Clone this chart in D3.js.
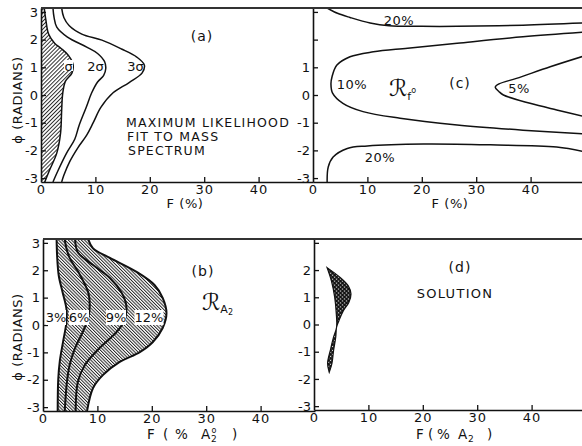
<!DOCTYPE html>
<html>
<head>
<meta charset="utf-8">
<script src="https://cdn.jsdelivr.net/npm/d3@7"></script>
<style>
  body { margin: 0; background: #fff; }
  svg { display: block; font-family: "DejaVu Sans", sans-serif; }
</style>
</head>
<body>
<svg id="fig" width="582" height="446"></svg>
<script>
// ---- data: [F (%), phi (rad)] ----
const fTicks = [0, 10, 20, 30, 40];
const phiTicks = [-3, -2, -1, 0, 1, 2, 3];

// (a) maximum likelihood contours
const sigma1 = [[0.6,3.14],[0.9,2.7],[1.4,2.2],[2.5,1.87],[3.7,1.68],[5.0,1.44],[5.9,1.1],[5.7,0.8],[4.5,0.5],[4.0,0.07],[3.8,-0.54],[3.6,-1.37],[2.9,-2.1],[1.6,-2.7],[0.7,-3.14]];
const sigma2 = [[2.2,3.14],[2.4,2.8],[2.9,2.45],[4.8,2.1],[8.4,1.73],[10.4,1.5],[11.7,1.2],[11.9,0.95],[11.5,0.7],[10.4,0.47],[9.3,0.07],[8.3,-0.45],[7.0,-1.1],[6.2,-1.6],[4.7,-2.1],[3.2,-2.7],[2.2,-3.14]];
const sigma3 = [[3.8,3.14],[4.2,2.8],[5.2,2.5],[7.5,2.2],[11.2,1.98],[14.8,1.66],[17.6,1.37],[19.0,1.08],[18.6,0.8],[16.2,0.45],[13.2,0.07],[11.0,-0.45],[9.6,-1.0],[8.4,-1.45],[6.8,-1.9],[5.3,-2.4],[4.2,-2.9],[3.8,-3.14]];

// (c) R_f0 contours
const c20top = [[2.6,3.14],[4.5,2.95],[6.8,2.8],[10.5,2.6],[14,2.5],[20,2.48],[26.5,2.48],[38.6,2.52],[50,2.6]];
const c10 = [[50,2.27],[38.6,2.1],[26.5,1.87],[17.4,1.69],[11.1,1.56],[6.8,1.38],[4.4,1.08],[3.5,0.66],[3.3,0.4],[3.6,0.07],[5.5,-0.3],[9.2,-0.6],[16,-0.84],[26.5,-1.08],[38.6,-1.27],[50,-1.41]];
const c5 = [[50,1.42],[43.6,1.02],[37.4,0.6],[34.2,0.4],[33.5,0.28],[34.2,0.12],[35,0.0],[39.9,-0.3],[44.8,-0.54],[50,-0.78]];
const c20bot = [[2.6,-3.14],[2.8,-2.6],[3.7,-2.24],[6.3,-1.93],[10,-1.84],[20.3,-1.77],[32.6,-1.8],[44.8,-1.88],[50,-2.05]];

// (b) R_A2 contours
const b3 = [[2.5,3.14],[2.6,2.5],[2.9,1.8],[3.6,1.2],[4.3,0.6],[4.3,0.1],[3.7,-0.6],[3.1,-1.3],[2.8,-2.0],[2.7,-3.14]];
const b6 = [[4.0,3.14],[4.3,2.8],[4.9,2.45],[6.8,1.83],[8.3,1.2],[8.6,0.73],[8.3,0.26],[7.3,-0.26],[5.9,-0.84],[4.9,-1.46],[4.4,-2.08],[4.0,-3.14]];
const b9 = [[5.9,3.14],[6.4,2.66],[9.2,2.19],[12.3,1.72],[14.4,1.2],[15.3,0.73],[15,0.18],[13.5,-0.26],[10.4,-0.84],[7.7,-1.46],[6.4,-2.08],[6.0,-3.14]];
const b12 = [[8.3,3.14],[9.2,2.8],[12.3,2.45],[17.2,1.94],[20.5,1.46],[22.0,0.99],[22.7,0.44],[22.0,-0.11],[20.2,-0.62],[17.8,-0.99],[14.1,-1.35],[11.0,-1.83],[9.2,-2.3],[8.1,-3.14]];

// (d) solution region outline
const solRight = [[2.4,2.09],[4.8,1.73],[6.3,1.42],[6.8,1.12],[6.4,0.81],[5.4,0.51],[4.6,0.15],[4.15,-0.1],[4.0,-0.46],[3.6,-0.95],[3.3,-1.43],[2.8,-1.76]];
const solLeft = [[2.8,-1.76],[2.5,-1.43],[3.0,-0.95],[3.6,-0.46],[4.15,-0.1],[4.1,0.39],[3.8,1.0],[3.2,1.6],[2.4,2.09]];

// ---- drawing ----
const svg = d3.select('#fig');
const W = 272;
const ink = '#111';

const defs = svg.append('defs');
defs.append('pattern').attr('id', 'hatchA')
  .attr('patternUnits', 'userSpaceOnUse').attr('width', 2.8).attr('height', 10)
  .attr('patternTransform', 'rotate(45)')
  .append('line').attr('x1', 0.5).attr('x2', 0.5).attr('y1', 0).attr('y2', 10)
  .attr('stroke', ink).attr('stroke-width', 0.9);
defs.append('pattern').attr('id', 'hatchB')
  .attr('patternUnits', 'userSpaceOnUse').attr('width', 2.3).attr('height', 10)
  .attr('patternTransform', 'rotate(-45)')
  .append('line').attr('x1', 0.5).attr('x2', 0.5).attr('y1', 0).attr('y2', 10)
  .attr('stroke', ink).attr('stroke-width', 0.9);
const dots = defs.append('pattern').attr('id', 'dots')
  .attr('patternUnits', 'userSpaceOnUse').attr('width', 2.8).attr('height', 2.8)
  .attr('patternTransform', 'rotate(45)');
dots.append('rect').attr('width', 2.8).attr('height', 2.8).attr('fill', ink);
dots.append('circle').attr('cx', 1.4).attr('cy', 1.4).attr('r', 0.7).attr('fill', '#fff');

function panel(id, left, top, bottom, labels) {
  const x = d3.scaleLinear().domain([0, 50]).range([left, left + W]);
  const y = d3.scaleLinear().domain([-Math.PI, Math.PI]).range([bottom, top]);
  defs.append('clipPath').attr('id', 'clip-' + id)
    .append('rect').attr('x', left).attr('y', top).attr('width', W).attr('height', bottom - top);
  const g = svg.append('g');
  const plot = g.append('g').attr('clip-path', `url(#clip-${id})`);

  const xAxis = g.append('g').attr('transform', `translate(0,${bottom})`)
    .call(d3.axisBottom(x).tickValues(fTicks).tickSizeInner(-5).tickSizeOuter(0)
      .tickPadding(3).tickFormat(d => String(d)));
  const yAxis = g.append('g').attr('transform', `translate(${left},0)`)
    .call(d3.axisLeft(y).tickValues(phiTicks).tickSizeInner(-5).tickSizeOuter(0)
      .tickPadding(3).tickFormat(d => labels.includes(d) ? String(d) : ''));
  [xAxis, yAxis].forEach(a => {
    a.attr('font-family', null).attr('font-size', 13);
    a.select('.domain').attr('stroke', ink).attr('stroke-width', 1.6);
    a.selectAll('.tick line').attr('stroke', ink).attr('stroke-width', 1.3);
    a.selectAll('.tick text').attr('fill', ink);
  });
  xAxis.selectAll('.tick text').attr('letter-spacing', 1);
  xAxis.selectAll('.tick').filter(d => d === 0).select('line').remove();
  g.append('line').attr('x1', left).attr('x2', left + W).attr('y1', top).attr('y2', top)
    .attr('stroke', '#333').attr('stroke-width', 1.8);

  const line = d3.line().x(d => x(d[0])).y(d => y(d[1])).curve(d3.curveCatmullRom.alpha(0.5));
  return { x, y, g, plot, line };
}

function txt(g, x, y, s, size, anchor, spacing) {
  return g.append('text').attr('x', x).attr('y', y).attr('font-size', size || 13)
    .attr('text-anchor', anchor || 'middle').attr('letter-spacing', spacing || 0)
    .attr('fill', ink).text(s);
}
function yLabel(cx, cy) {
  svg.append('text').attr('transform', `translate(${cx},${cy}) rotate(-90)`)
    .attr('text-anchor', 'middle').attr('dy', '0.35em').attr('font-size', 13)
    .attr('letter-spacing', 0.6).attr('fill', ink).text('ϕ (RADIANS)');
}
// "F ( % A2 )" axis title, pieces placed one by one like the lettering
function a2Label(g, pos, withZero) {
  const t = g.append('text').attr('y', 439).attr('font-size', 13.5).attr('fill', ink);
  t.append('tspan').attr('x', pos.F).text('F');
  t.append('tspan').attr('x', pos.open).text('(');
  t.append('tspan').attr('x', pos.pct).text('%');
  t.append('tspan').attr('x', pos.A).text('A');
  t.append('tspan').attr('x', pos.A + 10).attr('y', 442).attr('font-size', 9).text('2');
  if (withZero) {
    t.append('tspan').attr('x', pos.A + 10.5).attr('y', 433).attr('font-size', 8).text('o');
  }
  t.append('tspan').attr('x', pos.close).attr('y', 439).text(')');
}

// ---- panel (a) ----
const A = panel('a', 41, 8, 182, phiTicks);
A.plot.append('path')
  .attr('d', A.line(sigma1) + `L${A.x(0)},${A.y(-Math.PI)}L${A.x(0)},${A.y(Math.PI)}Z`)
  .attr('fill', 'url(#hatchA)').attr('stroke', 'none');
[sigma1, sigma2, sigma3].forEach(c => {
  A.plot.append('path').attr('d', A.line(c)).attr('fill', 'none')
    .attr('stroke', ink).attr('stroke-width', 1.5);
});
A.g.append('rect').attr('x', 64).attr('y', 60).attr('width', 9).attr('height', 11).attr('fill', '#fff');
txt(A.g, 68.5, 71, 'σ', 13);
txt(A.g, 95.5, 71, '2σ', 13);
txt(A.g, 135.5, 71, '3σ', 13);
txt(A.g, 202, 41, '(a)', 14, 'middle', 1);
txt(A.g, 126, 127, 'MAXIMUM LIKELIHOOD', 12.5, 'start', 1.2);
txt(A.g, 127, 141, 'FIT TO MASS', 12.5, 'start', 1.2);
txt(A.g, 128, 155, 'SPECTRUM', 12.5, 'start', 1.2);
txt(A.g, 185, 208, 'F (%)', 13, 'middle', 0.6);
yLabel(17, 100);

// ---- panel (c) ----
const C = panel('c', 313, 8, 182, [1, 0, -1, -2, -3]);
[c20top, c10, c5, c20bot].forEach(c => {
  C.plot.append('path').attr('d', C.line(c)).attr('fill', 'none')
    .attr('stroke', ink).attr('stroke-width', 1.5);
});
txt(C.g, 399, 25, '20%', 13, 'middle', 0.5);
txt(C.g, 352, 89, '10%', 13, 'middle', 0.5);
txt(C.g, 519, 93, '5%', 13, 'middle', 0.5);
txt(C.g, 380, 162, '20%', 13, 'middle', 0.5);
txt(C.g, 460, 88, '(c)', 14, 'middle', 1);
const rc = C.g.append('text').attr('x', 389).attr('y', 96).attr('fill', ink);
rc.append('tspan').attr('font-size', 23).attr('font-style', 'italic').text('ℛ');
rc.append('tspan').attr('font-size', 11).attr('dy', 4).text('f');
rc.append('tspan').attr('font-size', 8).attr('dy', -7).text('o');
txt(C.g, 450, 208, 'F (%)', 13, 'middle', 0.6);

// ---- panel (b) ----
const B = panel('b', 43, 239, 411, phiTicks);
B.plot.append('path')
  .attr('d', B.line(b12) + B.line(b3.slice().reverse()).replace(/^M/, 'L') + 'Z')
  .attr('fill', 'url(#hatchB)').attr('stroke', 'none');
[b3, b6, b9, b12].forEach(c => {
  B.plot.append('path').attr('d', B.line(c)).attr('fill', 'none')
    .attr('stroke', ink).attr('stroke-width', 2);
});
[['3%', 56], ['6%', 79], ['9%', 116], ['12%', 149]].forEach(([s, cx]) => {
  const w = s.length * 9 + 2;
  B.g.append('rect').attr('x', cx - w / 2).attr('y', 310).attr('width', w).attr('height', 15).attr('fill', '#fff');
  txt(B.g, cx, 322, s, 13);
});
txt(B.g, 203, 276, '(b)', 14, 'middle', 1);
const rb = B.g.append('text').attr('x', 202).attr('y', 310).attr('fill', ink);
rb.append('tspan').attr('font-size', 23).attr('font-style', 'italic').text('ℛ');
rb.append('tspan').attr('font-size', 11).attr('dy', 3).text('A');
rb.append('tspan').attr('font-size', 8).attr('dy', 2).text('2');
a2Label(B.g, { F: 147, open: 163, pct: 175, A: 201, close: 232 }, true);
yLabel(17, 337);

// ---- panel (d) ----
const D = panel('d', 314, 239, 410, [2, 1, 0, -1, -2, -3]);
D.plot.append('path')
  .attr('d', D.line(solRight) + D.line(solLeft).replace(/^M/, 'L') + 'Z')
  .attr('fill', 'url(#dots)').attr('stroke', ink).attr('stroke-width', 1.2);
txt(D.g, 460, 272, '(d)', 14, 'middle', 1);
txt(D.g, 455, 298, 'SOLUTION', 13, 'middle', 1.3);
a2Label(D.g, { F: 416, open: 428, pct: 437, A: 458, close: 487 }, false);
</script>
</body>
</html>
